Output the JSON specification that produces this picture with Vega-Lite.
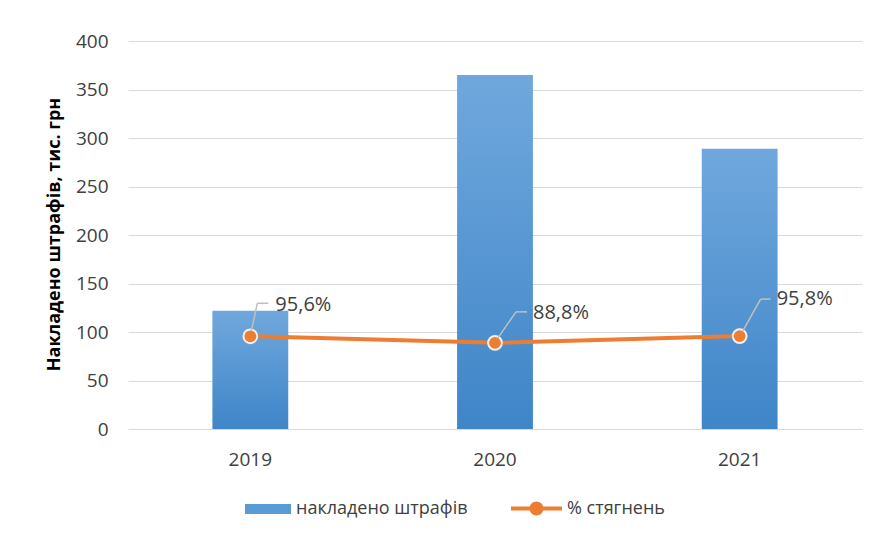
{
  "$schema": "https://vega.github.io/schema/vega-lite/v6.json",
  "width": 734,
  "height": 388,
  "autosize": {"type": "none"},
  "padding": {"left": 128, "top": 41, "right": 12, "bottom": 104},
  "background": "white",
  "config": {
    "font": "Open Sans",
    "view": {"stroke": null},
    "axis": {"labelFont": "Open Sans", "titleFont": "Open Sans"},
    "legend": {"labelFont": "Open Sans", "labelFontSize": 18, "labelColor": "#404040", "labelLimit": 400}
  },
  "data": {
    "values": [
      {"year": "2019", "fines": 122, "pct": 95.6, "label": "95,6%"},
      {"year": "2020", "fines": 365, "pct": 88.8, "label": "88,8%"},
      {"year": "2021", "fines": 289, "pct": 95.8, "label": "95,8%"}
    ]
  },
  "layer": [
    {
      "mark": {"type": "bar", "width": {"band": 0.31}, "fill": {"gradient": "linear", "x1": 0, "y1": 0, "x2": 0, "y2": 1, "stops": [{"offset": 0, "color": "#70a8dd"}, {"offset": 1, "color": "#3f85c8"}]}},
      "encoding": {
        "x": {
          "field": "year", "type": "nominal",
          "scale": {"paddingInner": 0, "paddingOuter": 0},
          "axis": {"title": null, "labelAngle": 0, "labelFontSize": 19, "labelColor": "#404040", "labelPadding": 21, "domain": false, "ticks": false, "grid": false}
        },
        "y": {
          "field": "fines", "type": "quantitative",
          "scale": {"domain": [0, 400]},
          "axis": {"title": "Накладено штрафів, тис. грн", "titleFontSize": 18, "titleFontWeight": "bold", "titleColor": "#000000", "titleX": -74, "titleY": 193, "titleAngle": -90, "titleAlign": "center", "titleBaseline": "middle", "values": [0, 50, 100, 150, 200, 250, 300, 350, 400], "labelFontSize": 19, "labelColor": "#404040", "labelPadding": 20, "domain": false, "ticks": false, "gridColor": "#d9d9d9", "gridWidth": 1}
        }
      }
    },
    {
      "mark": {"type": "bar", "width": {"band": 0.31}},
      "encoding": {
        "x": {"field": "year", "type": "nominal"},
        "y": {"datum": 0, "type": "quantitative"},
        "y2": {"datum": 0},
        "fill": {
          "datum": "накладено штрафів",
          "type": "nominal",
          "scale": {"range": ["#5b9bd5"]},
          "legend": {"title": null, "orient": "none", "legendX": 117, "legendY": 445, "symbolType": "M-1,-0.22H1V0.22H-1Z", "symbolSize": 2116, "symbolStrokeWidth": 0, "labelOffset": 5}
        }
      }
    },
    {
      "mark": {"type": "line", "strokeWidth": 4},
      "encoding": {
        "x": {"field": "year", "type": "nominal"},
        "y": {"field": "pct", "type": "quantitative", "title": "Накладено штрафів, тис. грн"},
        "stroke": {
          "datum": "% стягнень",
          "type": "nominal",
          "scale": {"range": ["#ED7D31"]},
          "legend": {"title": null, "orient": "none", "legendX": 381, "legendY": 440, "symbolType": "M-1,0H1M0.2,0A0.2,0.2,0,1,1,-0.2,0A0.2,0.2,0,1,1,0.2,0", "symbolSize": 2601, "symbolStrokeWidth": 4, "symbolFillColor": "#ED7D31", "labelOffset": 3}
        }
      }
    },
    {
      "mark": {"type": "point", "filled": true, "size": 190, "fill": "#ED7D31", "stroke": "#f0f0f0", "strokeWidth": 2, "opacity": 1},
      "encoding": {
        "x": {"field": "year", "type": "nominal"},
        "y": {"field": "pct", "type": "quantitative", "title": "Накладено штрафів, тис. грн"}
      }
    },
    {
      "transform": [{"filter": "datum.year == '2019'"}],
      "layer": [
        {"mark": {"type": "rule", "color": "#bfbfbf", "strokeWidth": 1.5, "xOffset": 1, "yOffset": -5, "x2Offset": 7, "y2Offset": -33},
         "encoding": {"x": {"field": "year", "type": "nominal"}, "x2": {"field": "year"}, "y": {"field": "pct", "type": "quantitative", "title": "Накладено штрафів, тис. грн"}, "y2": {"field": "pct"}}},
        {"mark": {"type": "rule", "color": "#bfbfbf", "strokeWidth": 1.5, "xOffset": 7, "yOffset": -33, "x2Offset": 18, "y2Offset": -33},
         "encoding": {"x": {"field": "year", "type": "nominal"}, "x2": {"field": "year"}, "y": {"field": "pct", "type": "quantitative", "title": "Накладено штрафів, тис. грн"}, "y2": {"field": "pct"}}},
        {"mark": {"type": "text", "align": "left", "baseline": "middle", "dx": 25, "dy": -31, "fontSize": 20, "color": "#404040"},
         "encoding": {"x": {"field": "year", "type": "nominal"}, "y": {"field": "pct", "type": "quantitative", "title": "Накладено штрафів, тис. грн"}, "text": {"field": "label"}}}
      ]
    },
    {
      "transform": [{"filter": "datum.year == '2020'"}],
      "layer": [
        {"mark": {"type": "rule", "color": "#bfbfbf", "strokeWidth": 1.5, "xOffset": 3, "yOffset": -5, "x2Offset": 21, "y2Offset": -31},
         "encoding": {"x": {"field": "year", "type": "nominal"}, "x2": {"field": "year"}, "y": {"field": "pct", "type": "quantitative", "title": "Накладено штрафів, тис. грн"}, "y2": {"field": "pct"}}},
        {"mark": {"type": "rule", "color": "#bfbfbf", "strokeWidth": 1.5, "xOffset": 21, "yOffset": -31, "x2Offset": 32, "y2Offset": -31},
         "encoding": {"x": {"field": "year", "type": "nominal"}, "x2": {"field": "year"}, "y": {"field": "pct", "type": "quantitative", "title": "Накладено штрафів, тис. грн"}, "y2": {"field": "pct"}}},
        {"mark": {"type": "text", "align": "left", "baseline": "middle", "dx": 38, "dy": -30, "fontSize": 20, "color": "#404040"},
         "encoding": {"x": {"field": "year", "type": "nominal"}, "y": {"field": "pct", "type": "quantitative", "title": "Накладено штрафів, тис. грн"}, "text": {"field": "label"}}}
      ]
    },
    {
      "transform": [{"filter": "datum.year == '2021'"}],
      "layer": [
        {"mark": {"type": "rule", "color": "#bfbfbf", "strokeWidth": 1.5, "xOffset": 3, "yOffset": -5, "x2Offset": 21, "y2Offset": -37},
         "encoding": {"x": {"field": "year", "type": "nominal"}, "x2": {"field": "year"}, "y": {"field": "pct", "type": "quantitative", "title": "Накладено штрафів, тис. грн"}, "y2": {"field": "pct"}}},
        {"mark": {"type": "rule", "color": "#bfbfbf", "strokeWidth": 1.5, "xOffset": 21, "yOffset": -37, "x2Offset": 31, "y2Offset": -37},
         "encoding": {"x": {"field": "year", "type": "nominal"}, "x2": {"field": "year"}, "y": {"field": "pct", "type": "quantitative", "title": "Накладено штрафів, тис. грн"}, "y2": {"field": "pct"}}},
        {"mark": {"type": "text", "align": "left", "baseline": "middle", "dx": 37, "dy": -37, "fontSize": 20, "color": "#404040"},
         "encoding": {"x": {"field": "year", "type": "nominal"}, "y": {"field": "pct", "type": "quantitative", "title": "Накладено штрафів, тис. грн"}, "text": {"field": "label"}}}
      ]
    }
  ]
}
